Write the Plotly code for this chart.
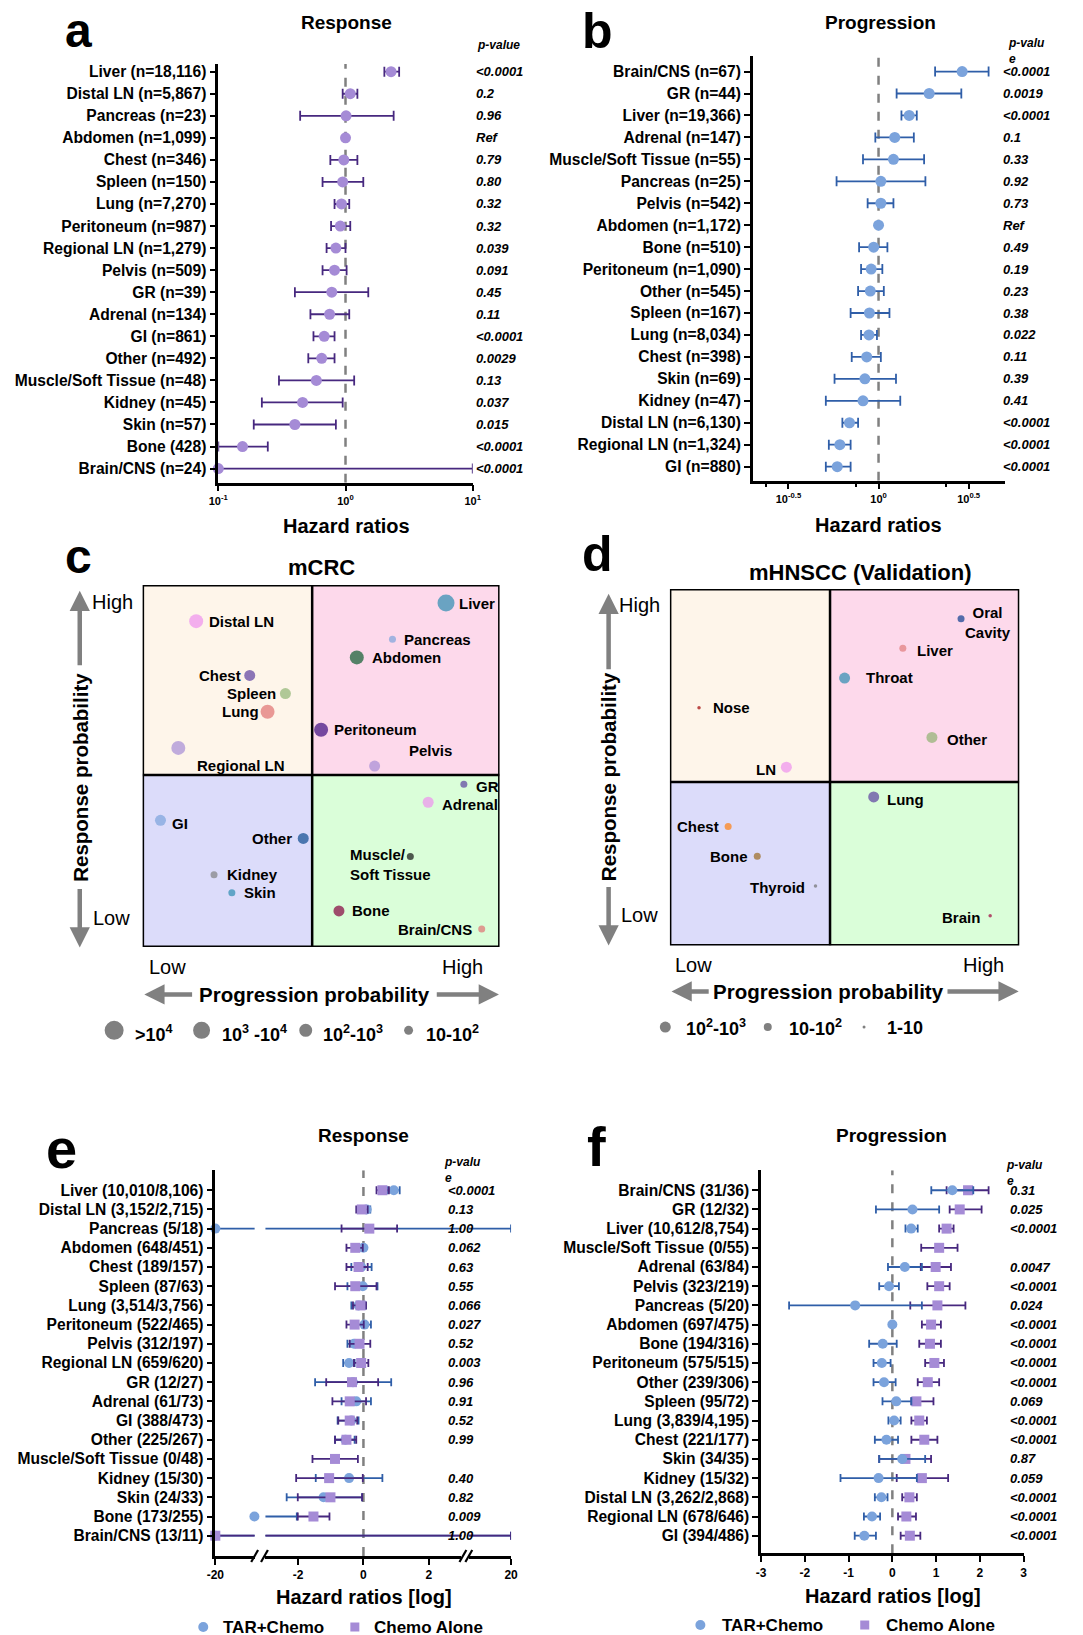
import plotly.graph_objects as go

W, H = 1083, 1635
FONT = "Liberation Sans, Arial, Helvetica, sans-serif"

# ---------------- Panel a : Response (hazard ratios) ----------------
a_sites = ["Liver (n=18,116)", "Distal LN (n=5,867)", "Pancreas (n=23)", "Abdomen (n=1,099)",
           "Chest (n=346)", "Spleen (n=150)", "Lung (n=7,270)", "Peritoneum (n=987)",
           "Regional LN (n=1,279)", "Pelvis (n=509)", "GR (n=39)", "Adrenal (n=134)",
           "GI (n=861)", "Other (n=492)", "Muscle/Soft Tissue (n=48)", "Kidney (n=45)",
           "Skin (n=57)", "Bone (428)", "Brain/CNS (n=24)"]
a_hr = [2.28, 1.09, 1.01, 1.0, 0.97, 0.95, 0.93, 0.91, 0.84, 0.82, 0.78, 0.75, 0.68, 0.65, 0.59, 0.46, 0.40, 0.155, 0.1]
a_lo = [2.02, 0.95, 0.44, 1.0, 0.76, 0.66, 0.82, 0.77, 0.71, 0.66, 0.40, 0.53, 0.56, 0.51, 0.30, 0.22, 0.19, 0.1, 0.1]
a_hi = [2.64, 1.24, 2.39, 1.0, 1.24, 1.38, 1.07, 1.09, 1.0, 1.02, 1.51, 1.07, 0.82, 0.82, 1.17, 0.95, 0.84, 0.245, 10]
a_p = ["<0.0001", "0.2", "0.96", "Ref", "0.79", "0.80", "0.32", "0.32", "0.039", "0.091", "0.45", "0.11",
       "<0.0001", "0.0029", "0.13", "0.037", "0.015", "<0.0001", "<0.0001"]

# ---------------- Panel b : Progression (hazard ratios) ----------------
b_sites = ["Brain/CNS (n=67)", "GR (n=44)", "Liver (n=19,366)", "Adrenal (n=147)", "Muscle/Soft Tissue (n=55)",
           "Pancreas (n=25)", "Pelvis (n=542)", "Abdomen (n=1,172)", "Bone (n=510)", "Peritoneum (n=1,090)",
           "Other (n=545)", "Spleen (n=167)", "Lung (n=8,034)", "Chest (n=398)", "Skin (n=69)",
           "Kidney (n=47)", "Distal LN (n=6,130)", "Regional LN (n=1,324)", "GI (n=880)"]
b_hr = [2.91, 1.91, 1.48, 1.23, 1.21, 1.03, 1.03, 1.0, 0.94, 0.91, 0.90, 0.89, 0.885, 0.86, 0.84, 0.82, 0.69, 0.61, 0.59]
b_lo = [2.06, 1.26, 1.34, 0.96, 0.82, 0.585, 0.87, 1.0, 0.78, 0.80, 0.77, 0.70, 0.80, 0.71, 0.57, 0.51, 0.63, 0.53, 0.51]
b_hi = [4.08, 2.88, 1.63, 1.57, 1.79, 1.82, 1.21, 1.0, 1.12, 1.05, 1.07, 1.15, 0.98, 1.03, 1.25, 1.32, 0.77, 0.70, 0.70]
b_p = ["<0.0001", "0.0019", "<0.0001", "0.1", "0.33", "0.92", "0.73", "Ref", "0.49", "0.19", "0.23", "0.38",
       "0.022", "0.11", "0.39", "0.41", "<0.0001", "<0.0001", "<0.0001"]

# ---------------- Panel c : mCRC quadrant (ranks) ----------------
c_sites = ["Liver", "Distal LN", "Pancreas", "Abdomen", "Chest", "Spleen", "Lung", "Peritoneum",
           "Regional LN", "Pelvis", "GR", "Adrenal", "GI", "Other", "Muscle/<br>Soft Tissue",
           "Kidney", "Skin", "Bone", "Brain/CNS"]
c_prog_rank = [17, 3, 14, 12, 6, 8, 7, 10, 2, 13, 18, 16, 1, 9, 15, 4, 5, 11, 19]
c_resp_rank = [19, 18, 17, 16, 15, 14, 13, 12, 11, 10, 9, 8, 7, 6, 5, 4, 3, 2, 1]
c_size_class = [">1e4", "1e3-1e4", "10-1e2", "1e3-1e4", "1e2-1e3", "1e2-1e3", "1e3-1e4", "1e3-1e4",
                "1e3-1e4", "1e2-1e3", "10-1e2", "1e2-1e3", "1e2-1e3", "1e2-1e3", "10-1e2",
                "10-1e2", "10-1e2", "1e2-1e3", "10-1e2"]

# ---------------- Panel d : mHNSCC quadrant (ranks) ----------------
d_sites = ["Oral<br>Cavity", "Liver", "Throat", "Nose", "Other", "LN", "Lung", "Chest", "Bone", "Thyroid", "Brain"]
d_prog_rank = [10, 8, 6, 1, 9, 4, 7, 2, 3, 5, 11]
d_resp_rank = [11, 10, 9, 8, 7, 6, 5, 4, 3, 2, 1]
d_size_class = ["10-1e2", "10-1e2", "1e2-1e3", "1-10", "1e2-1e3", "1e2-1e3", "1e2-1e3", "10-1e2", "10-1e2", "1-10", "1-10"]

# ---------------- Panel e : Response, TAR+Chemo vs Chemo alone (log HR) ----------------
e_sites = ["Liver (10,010/8,106)", "Distal LN (3,152/2,715)", "Pancreas (5/18)", "Abdomen (648/451)",
           "Chest (189/157)", "Spleen (87/63)", "Lung (3,514/3,756)", "Peritoneum (522/465)",
           "Pelvis (312/197)", "Regional LN (659/620)", "GR (12/27)", "Adrenal (61/73)",
           "GI (388/473)", "Other (225/267)", "Muscle/Soft Tissue (0/48)", "Kidney (15/30)",
           "Skin (24/33)", "Bone (173/255)", "Brain/CNS (13/11)"]
e_tar = [0.93, 0.10, -20, 0.0, -0.07, -0.02, -0.15, 0.03, -0.29, -0.44, -0.32, -0.22, -0.37, -0.55, None, -0.44, -1.22, -3.1, -20]
e_tar_lo = [0.73, -0.02, -20, 0.0, -0.37, -0.49, -0.37, -0.27, -0.49, -0.62, -1.48, -0.67, -0.79, -0.87, None, -1.46, -2.35, -3.2, -20]
e_tar_hi = [1.11, 0.21, 20, 0.0, 0.25, 0.43, 0.06, 0.23, -0.07, -0.27, 0.85, 0.23, -0.15, -0.27, None, 0.58, -0.04, -2.04, 20]
e_chemo = [0.58, -0.05, 0.18, -0.25, -0.15, -0.25, -0.09, -0.27, -0.12, -0.07, -0.35, -0.42, -0.42, -0.52, -0.87, -1.05, -1.01, -1.53, -20]
e_chemo_lo = [0.40, -0.22, -0.67, -0.52, -0.52, -0.87, -0.32, -0.52, -0.42, -0.29, -1.14, -0.95, -0.77, -0.87, -1.56, -2.06, -2.01, -2.01, -20]
e_chemo_hi = [0.78, 0.13, 1.03, -0.02, 0.13, 0.40, 0.08, 0.01, 0.21, 0.15, 0.45, 0.08, -0.19, -0.22, -0.17, -0.02, -0.04, -1.04, 20]
e_p = ["<0.0001", "0.13", "1.00", "0.062", "0.63", "0.55", "0.066", "0.027", "0.52", "0.003", "0.96", "0.91",
       "0.52", "0.99", "", "0.40", "0.82", "0.009", "1.00"]
e_ticks = [-20, -2, 0, 2, 20]

# ---------------- Panel f : Progression, TAR+Chemo vs Chemo alone (log HR) ----------------
f_sites = ["Brain/CNS (31/36)", "GR (12/32)", "Liver (10,612/8,754)", "Muscle/Soft Tissue (0/55)",
           "Adrenal (63/84)", "Pelvis (323/219)", "Pancreas (5/20)", "Abdomen (697/475)", "Bone (194/316)",
           "Peritoneum (575/515)", "Other (239/306)", "Spleen (95/72)", "Lung (3,839/4,195)",
           "Chest (221/177)", "Skin (34/35)", "Kidney (15/32)", "Distal LN (3,262/2,868)",
           "Regional LN (678/646)", "GI (394/486)"]
f_tar = [1.37, 0.46, 0.43, None, 0.285, -0.075, -0.85, 0.0, -0.22, -0.24, -0.19, 0.09, 0.04, -0.135, 0.225, -0.315, -0.25, -0.465, -0.64]
f_tar_lo = [0.89, -0.375, 0.30, None, -0.10, -0.30, -2.36, 0.0, -0.53, -0.43, -0.43, -0.225, -0.09, -0.40, -0.30, -1.185, -0.40, -0.65, -0.86]
f_tar_hi = [1.85, 1.07, 0.58, None, 0.675, 0.15, 0.675, 0.0, 0.10, -0.04, 0.075, 0.435, 0.19, 0.13, 0.75, 0.56, -0.11, -0.28, -0.375]
f_chemo = [1.73, 1.54, 1.24, 1.07, 0.99, 1.07, 1.03, 0.885, 0.86, 0.96, 0.81, 0.55, 0.615, 0.73, 0.30, 0.675, 0.39, 0.32, 0.40]
f_chemo_lo = [1.24, 1.31, 1.07, 0.66, 0.65, 0.80, 0.41, 0.675, 0.615, 0.75, 0.58, 0.435, 0.435, 0.435, -0.30, 0.10, 0.225, 0.13, 0.19]
f_chemo_hi = [2.20, 2.04, 1.40, 1.49, 1.34, 1.31, 1.67, 1.11, 1.11, 1.18, 1.07, 0.94, 0.79, 1.03, 0.885, 1.275, 0.56, 0.54, 0.64]
f_p = ["0.31", "0.025", "<0.0001", "", "0.0047", "<0.0001", "0.024", "<0.0001", "<0.0001", "<0.0001",
       "<0.0001", "0.069", "<0.0001", "<0.0001", "0.87", "0.059", "<0.0001", "<0.0001", "<0.0001"]
f_ticks = [-3, -2, -1, 0, 1, 2, 3]

# ================= styles =================
PURPLE_PT, PURPLE_BAR = "#a58bd6", "#47287f"
BLUE_PT, BLUE_BAR = "#7ba3dc", "#2f5ea8"
GREY = "#808080"

c_colors = {"Liver": "#2b8cb0", "Distal LN": "#ee90ee", "Pancreas": "#7ba3dc", "Abdomen": "#0d5b2f",
            "Chest": "#5b3fa0", "Spleen": "#8fb573", "Lung": "#e07070", "Peritoneum": "#3b0a7f",
            "Regional LN": "#a58bd6", "Pelvis": "#a58bd6", "GR": "#5b3fa0", "Adrenal": "#ee90ee",
            "GI": "#7ba3dc", "Other": "#0b4a8f", "Muscle/<br>Soft Tissue": "#111111", "Kidney": "#808080",
            "Skin": "#2b8cb0", "Bone": "#85003d", "Brain/CNS": "#e07070"}
c_sizes = {">1e4": 17, "1e3-1e4": 14, "1e2-1e3": 11, "10-1e2": 7}
# label placement: (xanchor, xshift, yshift)
c_label_pos = {"Liver": ("left", 11, 0), "Distal LN": ("left", 11, 0), "Pancreas": ("left", 10, 0),
               "Abdomen": ("left", 13, 0), "Chest": ("right", -7, 0), "Spleen": ("right", -7, 0),
               "Lung": ("right", -7, 0), "Peritoneum": ("left", 11, 0), "Regional LN": ("left", 17, -18),
               "Pelvis": ("left", 32, 16), "GR": ("left", 10, -2), "Adrenal": ("left", 12, -2),
               "GI": ("left", 10, -3), "Other": ("right", -9, 0), "Muscle/<br>Soft Tissue": ("left", -62, -8),
               "Kidney": ("left", 11, 0), "Skin": ("left", 10, 0), "Bone": ("left", 11, 0),
               "Brain/CNS": ("right", -8, 0)}
d_colors = {"Oral<br>Cavity": "#0b3d8f", "Liver": "#e07a7a", "Throat": "#2b8cb0", "Nose": "#a00000",
            "Other": "#8fb070", "LN": "#ee90ee", "Lung": "#5b3fa0", "Chest": "#ff7f0e", "Bone": "#9b6a20",
            "Thyroid": "#707070", "Brain": "#a0003c"}
d_sizes = {"1e2-1e3": 11, "10-1e2": 7, "1-10": 3.5}
d_label_pos = {"Oral<br>Cavity": ("center", 27, -4), "Liver": ("left", 12, -2), "Throat": ("left", 19, 1),
               "Nose": ("left", 12, 0), "Other": ("left", 13, -2), "LN": ("right", -8, -2),
               "Lung": ("left", 11, -3), "Chest": ("right", -7, 0), "Bone": ("right", -7, 0),
               "Thyroid": ("right", -8, -1), "Brain": ("right", -8, -2)}


def fx(p):
    return p / W


def fy(p):
    return 1 - p / H


fig = go.Figure()

axc = dict(showgrid=False, zeroline=False, showline=True, linecolor="black", linewidth=2.5,
           ticks="outside", tickcolor="black", tickwidth=2, ticklen=6, fixedrange=True)
catfont = dict(family=FONT, size=15.6, color="black", weight="bold")
tickfont_small = dict(family=FONT, size=11, color="black", weight="bold")
tickfont_ef = dict(family=FONT, size=12, color="black", weight="bold")

layout = dict(width=W, height=H, margin=dict(l=0, r=0, t=0, b=0), paper_bgcolor="white",
              plot_bgcolor="rgba(0,0,0,0)", showlegend=False, font=dict(family=FONT, color="black"))

# ---- axes a ----
na = len(a_sites)
a_yr = [18.64, -0.35]
layout["xaxis"] = dict(axc, domain=[fx(212), fx(471)], anchor="y", type="log", range=[-1, 1],
                       tickvals=[0.1, 1, 10], ticktext=["10<sup>-1</sup>", "10<sup>0</sup>", "10<sup>1</sup>"],
                       tickfont=tickfont_small)
layout["yaxis"] = dict(axc, domain=[fy(482), fy(63)], anchor="x", range=a_yr,
                       tickvals=list(range(na)), ticktext=a_sites, tickfont=catfont)
# ---- axes b ----
nb = len(b_sites)
b_yr = [18.64, -0.71]
layout["xaxis2"] = dict(axc, domain=[fx(756), fx(1013)], anchor="y2", type="log", range=[-0.698, 0.703],
                        tickvals=[10 ** -0.5, 1, 10 ** 0.5],
                        ticktext=["10<sup>-0.5</sup>", "10<sup>0</sup>", "10<sup>0.5</sup>"],
                        tickfont=tickfont_small,
                        minor=dict(tickvals=[10 ** -0.625, 10 ** -0.125, 10 ** 0.375], ticklen=4,
                                   tickwidth=2, ticks="outside", tickcolor="black"))
layout["yaxis2"] = dict(axc, domain=[fy(480), fy(55)], anchor="x2", range=b_yr,
                        tickvals=list(range(nb)), ticktext=b_sites, tickfont=catfont)
# ---- axes c / d ----
layout["xaxis3"] = dict(domain=[fx(135), fx(498.3)], anchor="y3", range=[0, 20], visible=False, fixedrange=True)
layout["yaxis3"] = dict(domain=[fy(946.7), fy(584.3)], anchor="x3", range=[0, 20], visible=False, fixedrange=True)
layout["xaxis4"] = dict(domain=[fx(671.7), fx(1027.3)], anchor="y4", range=[0, 12], visible=False, fixedrange=True)
layout["yaxis4"] = dict(domain=[fy(945), fy(588.3)], anchor="x4", range=[0, 12], visible=False, fixedrange=True)
# ---- axes e (broken x axis) ----
ne = len(e_sites)
e_yr = [19.06, -1.04]
e_segments = [("x5", -20, -3), ("x6", -3, 3), ("x7", 3, 20)]
e_dom = {"x5": [209, 249], "x6": [260, 459.5], "x7": [467, 510]}
for name, r0, r1 in e_segments:
    tv = [t for t in e_ticks if r0 <= t <= r1 and not (name != "x6" and abs(t) < 3)]
    layout["xaxis" + name[1:]] = dict(axc, domain=[fx(e_dom[name][0]), fx(e_dom[name][1])], anchor="y5",
                                      range=[r0, r1], tickvals=tv, ticktext=[str(t) for t in tv],
                                      tickfont=tickfont_ef, ticklen=6)
layout["yaxis5"] = dict(axc, domain=[fy(1556), fy(1170)], anchor="x5", range=e_yr,
                        tickvals=list(range(ne)), ticktext=e_sites, tickfont=catfont)
# ---- axes f ----
nf = len(f_sites)
f_yr = [18.92, -1.04]
layout["xaxis8"] = dict(axc, domain=[fx(764.5), fx(1031.7)], anchor="y6", range=[-3, 3],
                        tickvals=f_ticks, ticktext=[str(t) for t in f_ticks], tickfont=tickfont_ef)
layout["yaxis6"] = dict(axc, domain=[fy(1553.3), fy(1170)], anchor="x8", range=f_yr,
                        tickvals=list(range(nf)), ticktext=f_sites, tickfont=catfont)


def errs(vals, lo, hi):
    plus = [None if v is None else h - v for v, h in zip(vals, hi)]
    minus = [None if v is None else v - l for v, l in zip(vals, lo)]
    return plus, minus


def ref_line(xa, ya, xval, yr):
    fig.add_trace(go.Scatter(x=[xval, xval], y=yr, xaxis=xa, yaxis=ya, mode="lines",
                             line=dict(color=GREY, width=2.5, dash="dash"), hoverinfo="skip"))


def forest(vals, lo, hi, xa, ya, pcol, bcol, symbol="circle", size=11, cap=5, clip=False):
    plus, minus = errs(vals, lo, hi)
    fig.add_trace(go.Scatter(x=vals, y=list(range(len(vals))), xaxis=xa, yaxis=ya, mode="markers",
                             marker=dict(symbol=symbol, size=size, color=pcol, line=dict(width=0)),
                             error_x=dict(type="data", symmetric=False, array=plus, arrayminus=minus,
                                          color=bcol, thickness=1.8, width=cap),
                             cliponaxis=clip, hoverinfo="skip"))


# ---- a ----
ref_line("x", "y", 1, a_yr)
forest(a_hr, a_lo, a_hi, "x", "y", PURPLE_PT, PURPLE_BAR)
# ---- b ----
ref_line("x2", "y2", 1, b_yr)
forest(b_hr, b_lo, b_hi, "x2", "y2", BLUE_PT, BLUE_BAR)

# ---- e (broken axis) ----
ref_line("x6", "y5", 0, e_yr)


def forest_broken(vals, lo, hi, pcol, bcol, symbol):
    plus, minus = errs(vals, lo, hi)
    rows = list(range(len(vals)))
    for name, r0, r1 in e_segments:
        fig.add_trace(go.Scatter(x=vals, y=rows, xaxis=name, yaxis="y5", mode="markers",
                                 marker=dict(size=2, color="rgba(0,0,0,0)"),
                                 error_x=dict(type="data", symmetric=False, array=plus, arrayminus=minus,
                                              color=bcol, thickness=1.8, width=4),
                                 cliponaxis=True, hoverinfo="skip"))
    for name, r0, r1 in e_segments:
        xs = [v if (v is not None and r0 <= v <= r1) else None for v in vals]
        fig.add_trace(go.Scatter(x=xs, y=rows, xaxis=name, yaxis="y5", mode="markers",
                                 marker=dict(symbol=symbol, size=10, color=pcol, line=dict(width=0)),
                                 cliponaxis=False, hoverinfo="skip"))


forest_broken(e_tar, e_tar_lo, e_tar_hi, BLUE_PT, BLUE_BAR, "circle")
forest_broken(e_chemo, e_chemo_lo, e_chemo_hi, PURPLE_PT, PURPLE_BAR, "square")

# ---- f ----
ref_line("x8", "y6", 0, f_yr)
forest(f_chemo, f_chemo_lo, f_chemo_hi, "x8", "y6", PURPLE_PT, PURPLE_BAR, symbol="square", size=10, cap=4)
forest(f_tar, f_tar_lo, f_tar_hi, "x8", "y6", BLUE_PT, BLUE_BAR, symbol="circle", size=10, cap=4)

# ---- c / d scatter ----
fig.add_trace(go.Scatter(x=c_prog_rank, y=c_resp_rank, xaxis="x3", yaxis="y3", mode="markers",
                         marker=dict(size=[c_sizes[s] for s in c_size_class],
                                     color=[c_colors[s] for s in c_sites], line=dict(width=0)),
                         cliponaxis=False, hoverinfo="skip"))
fig.add_trace(go.Scatter(x=d_prog_rank, y=d_resp_rank, xaxis="x4", yaxis="y4", mode="markers",
                         marker=dict(size=[d_sizes[s] for s in d_size_class],
                                     color=[d_colors[s] for s in d_sites], line=dict(width=0)),
                         cliponaxis=False, hoverinfo="skip"))

shapes = []
# quadrants
quad_cols = {"tl": "#fef5ea", "tr": "#fdd9eb", "bl": "#dcdcfa", "br": "#dafed9"}
for xa, ya, top, mid in [("x3", "y3", 20, 9.5), ("x4", "y4", 12, 5.5)]:
    for key, (x0, x1, y0, y1) in {"tl": (0, mid, mid, top), "tr": (mid, top, mid, top),
                                  "bl": (0, mid, 0, mid), "br": (mid, top, 0, mid)}.items():
        shapes.append(dict(type="rect", xref=xa, yref=ya, x0=x0, x1=x1, y0=y0, y1=y1,
                           fillcolor=quad_cols[key], line=dict(width=0), layer="below"))
    shapes.append(dict(type="line", xref=xa, yref=ya, x0=mid, x1=mid, y0=0, y1=top,
                       line=dict(color="black", width=2.5), layer="below"))
    shapes.append(dict(type="line", xref=xa, yref=ya, x0=0, x1=top, y0=mid, y1=mid,
                       line=dict(color="black", width=2.5), layer="below"))
    shapes.append(dict(type="rect", xref=xa, yref=ya, x0=0, x1=top, y0=0, y1=top,
                       line=dict(color="black", width=3), fillcolor="rgba(0,0,0,0)", layer="below"))

# axis break marks (panel e)
for cx in [249, 259, 461, 467]:
    shapes.append(dict(type="line", xref="paper", yref="paper", x0=fx(cx - 3.5), x1=fx(cx + 3.5),
                       y0=fy(1556 + 6), y1=fy(1556 - 6), line=dict(color="black", width=2.2)))


def circ(cx, cy, r, color):
    shapes.append(dict(type="circle", xref="paper", yref="paper", xsizemode="pixel", ysizemode="pixel",
                       xanchor=fx(cx), yanchor=fy(cy), x0=-r, x1=r, y0=-r, y1=r,
                       fillcolor=color, line=dict(width=0)))


def sq(cx, cy, r, color):
    shapes.append(dict(type="rect", xref="paper", yref="paper", xsizemode="pixel", ysizemode="pixel",
                       xanchor=fx(cx), yanchor=fy(cy), x0=-r, x1=r, y0=-r, y1=r,
                       fillcolor=color, line=dict(width=0)))


# size legends
for cx, r in [(106, 9.5), (195, 8.5), (301, 6.5), (405.7, 4.5)]:
    circ(cx, 1030, r, GREY)
for cx, r in [(667, 5.5), (771.3, 4), (869.3, 1.5)]:
    circ(cx, 1026.7, r, GREY)
# e/f legends
circ(196.7, 1627, 5, BLUE_PT)
sq(351, 1627, 4.5, PURPLE_PT)
circ(702.7, 1625, 5, BLUE_PT)
sq(870, 1625, 4.5, PURPLE_PT)

layout["shapes"] = shapes
fig.update_layout(**layout)


def ann(text, x, y, size, bold=True, italic=False, xanchor="center", yanchor="middle", angle=0, align="center"):
    fig.add_annotation(text=text, x=fx(x), y=fy(y), xref="paper", yref="paper", showarrow=False,
                       xanchor=xanchor, yanchor=yanchor, textangle=angle, align=align,
                       font=dict(family=FONT, size=size, color="black",
                                 weight="bold" if bold else "normal",
                                 style="italic" if italic else "normal"))


# panel letters
ann("a", 70, 30, 48)
ann("b", 597.5, 30, 50)
ann("c", 70, 555.6, 48)
ann("d", 597.5, 553.3, 50)
ann("e", 52.5, 1148, 56)
ann("f", 596.7, 1146.5, 56)
# titles
ann("Response", 342, 22, 19)
ann("Progression", 886, 22, 19)
ann("mCRC", 316.7, 566.7, 22)
ann("mHNSCC (Validation)", 865, 572.3, 22)
ann("Response", 360, 1135, 19)
ann("Progression", 897.7, 1135, 19)
# axis titles
ann("Hazard ratios", 342, 525, 20)
ann("Hazard ratios", 884, 524, 20)
ann("Hazard ratios [log]", 360, 1597.3, 20)
ann("Hazard ratios [log]", 898.3, 1596, 20)
# p-value headers
ann("p-value", 473, 44, 12, italic=True, xanchor="left")
ann("p-valu<br>e", 1013.7, 50.3, 12, italic=True, xanchor="left", align="left")
ann("p-valu<br>e", 439.7, 1170, 12, italic=True, xanchor="left", align="left")
ann("p-valu<br>e", 1011.3, 1173, 12, italic=True, xanchor="left", align="left")


def pvals(ps, xpx, ya):
    for i, p in enumerate(ps):
        if p:
            fig.add_annotation(text=p, x=fx(xpx), y=i, xref="paper", yref=ya, showarrow=False,
                               xanchor="left", yanchor="middle",
                               font=dict(family=FONT, size=13, color="black", weight="bold", style="italic"))


pvals(a_p, 472, "y")
pvals(b_p, 1009, "y2")
pvals(e_p, 444, "y5")
pvals(f_p, 1016, "y6")

# quadrant labels
for s, xr, yr in zip(c_sites, c_prog_rank, c_resp_rank):
    xa_, xs_, ys_ = c_label_pos[s]
    fig.add_annotation(text=s, x=xr, y=yr, xref="x3", yref="y3", showarrow=False, xanchor=xa_,
                       xshift=xs_, yshift=ys_, align="left",
                       font=dict(family=FONT, size=15, color="black", weight="bold"))
for s, xr, yr in zip(d_sites, d_prog_rank, d_resp_rank):
    xa_, xs_, ys_ = d_label_pos[s]
    fig.add_annotation(text=s, x=xr, y=yr, xref="x4", yref="y4", showarrow=False, xanchor=xa_,
                       xshift=xs_, yshift=ys_, align="center",
                       font=dict(family=FONT, size=15, color="black", weight="bold"))

# High / Low and axis captions
ann("High", 104, 601, 20, bold=False)
ann("Low", 103, 917.7, 20, bold=False)
ann("Low", 160, 966.7, 20, bold=False)
ann("High", 461, 966.7, 20, bold=False)
ann("Response probability", 71, 776.5, 20.5, angle=-90)
ann("Progression probability", 310, 994, 20.5)
ann("High", 641, 604, 20, bold=False)
ann("Low", 641, 915, 20, bold=False)
ann("Low", 695.7, 964.3, 20, bold=False)
ann("High", 991, 964.3, 20, bold=False)
ann("Response probability", 609.3, 776, 20.5, angle=-90)
ann("Progression probability", 833.3, 991, 20.5)

# size legend texts
ann(">10<sup>4</sup>", 125, 1032.7, 18, xanchor="left")
ann("10<sup>3</sup> -10<sup>4</sup>", 213.3, 1032.7, 18, xanchor="left")
ann("10<sup>2</sup>-10<sup>3</sup>", 316.7, 1032.7, 18, xanchor="left")
ann("10-10<sup>2</sup>", 421.7, 1032.7, 18, xanchor="left")
ann("10<sup>2</sup>-10<sup>3</sup>", 685.7, 1027.3, 18, xanchor="left")
ann("10-10<sup>2</sup>", 790.7, 1027.3, 18, xanchor="left")
ann("1-10", 890.7, 1027.3, 18, xanchor="left")
# e/f legend texts
ann("TAR+Chemo", 215, 1627, 17, xanchor="left")
ann("Chemo Alone", 368.3, 1627, 17, xanchor="left")
ann("TAR+Chemo", 722.3, 1625, 17, xanchor="left")
ann("Chemo Alone", 889.3, 1625, 17, xanchor="left")


def arrow(tip, tail):
    fig.add_annotation(x=fx(tip[0]), y=fy(tip[1]), xref="paper", yref="paper", text="",
                       showarrow=True, ax=tail[0] - tip[0], ay=tail[1] - tip[1], axref="pixel", ayref="pixel",
                       arrowhead=2, arrowsize=0.9, arrowwidth=4.5, arrowcolor=GREY, standoff=0)


arrow((71, 590), (71, 666))
arrow((71, 947), (71, 887))
arrow((136.7, 994), (186, 994))
arrow((497.7, 994), (434, 994))
arrow((609.3, 593), (609.3, 670))
arrow((609.3, 945), (609.3, 885))
arrow((673.3, 991), (712, 991))
arrow((1026.7, 991), (954, 991))

fig.write_html("out.html", config={"displayModeBar": False},
               post_script="document.body.style.margin='0px';")
